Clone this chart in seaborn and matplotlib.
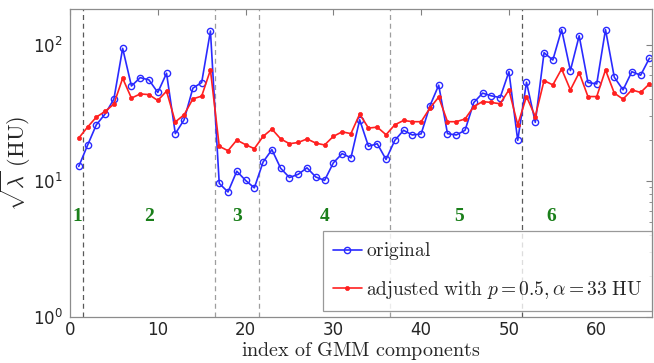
import numpy as np
import pandas as pd
import matplotlib
matplotlib.use("Agg")
import matplotlib.pyplot as plt
import seaborn as sns
from matplotlib.ticker import LogLocator

components = list(range(1, 67))
original = [12.8, 18.3, 25.9, 31.1, 40.0, 94.6, 50.0, 57.6, 55.4, 44.8,
            62.0, 22.3, 28.2, 48.2, 53.0, 127.0, 9.6, 8.3, 11.8, 10.1,
            8.9, 13.8, 17.0, 12.4, 10.6, 11.2, 12.5, 10.7, 10.1, 13.6,
            15.9, 14.8, 28.2, 18.0, 18.8, 14.4, 19.9, 23.6, 21.8, 22.2,
            35.7, 50.7, 22.3, 21.8, 23.6, 37.8, 44.3, 42.3, 41.1, 63.7,
            19.9, 53.3, 27.0, 87.9, 77.6, 130.0, 64.9, 117.0, 53.0, 51.8,
            130.0, 58.0, 46.8, 63.7, 60.0, 80.0]
adjusted = [20.7, 24.9, 29.5, 32.5, 36.8, 57.0, 40.7, 43.7, 43.2, 39.1,
            45.8, 27.2, 30.7, 40.2, 42.1, 65.6, 18.0, 16.7, 20.0, 18.5,
            17.3, 21.3, 24.1, 20.4, 18.8, 19.2, 20.4, 19.0, 18.4, 21.3,
            23.0, 22.3, 31.1, 24.5, 24.9, 21.9, 25.9, 27.9, 27.3, 27.3,
            34.4, 41.4, 27.3, 27.3, 28.6, 35.3, 38.4, 37.8, 37.0, 46.8,
            25.9, 41.8, 29.8, 54.8, 50.9, 66.7, 46.8, 62.7, 41.8, 41.8,
            65.6, 44.3, 40.0, 46.8, 44.8, 51.8]
boundaries = [1.5, 16.5, 21.5, 36.5, 51.5]
group_labels = ["1", "2", "3", "4", "5", "6"]
group_x = [0.8, 9.0, 19.0, 29.0, 44.3, 54.8]
label_y = 5.5

sns.set_style("white")
plt.rcParams["mathtext.fontset"] = "cm"
plt.rcParams["font.family"] = ["DejaVu Sans"]

df = pd.DataFrame({"idx": components, "original": original, "adjusted": adjusted})

fig = plt.figure(figsize=(6.54, 3.63), dpi=100)
ax = fig.add_axes([0.107, 0.127, 0.890, 0.848])

blue = "#2a2aff"
red = "#ff2020"
sns.lineplot(data=df, x="idx", y="original", ax=ax, color=blue, lw=1.2,
             marker="o", markersize=4.5, markerfacecolor="none",
             markeredgecolor=blue, markeredgewidth=1.0,
             label=r"$\mathrm{original}$")
sns.lineplot(data=df, x="idx", y="adjusted", ax=ax, color=red, lw=1.2,
             marker="o", markersize=3.0, markerfacecolor=red,
             markeredgecolor=red, markeredgewidth=0.5,
             label=r"$\mathrm{adjusted\ with\ }p = 0.5, \alpha = 33\ \mathrm{HU}$")

for i, b in enumerate(boundaries):
    ax.axvline(b, color="0.35" if i in (0, 4) else "0.62", ls=(0, (4, 3)), lw=0.9, zorder=0)

for gx, gl in zip(group_x, group_labels):
    ax.text(gx, label_y, gl, color="#1a7f1a", fontsize=14, fontweight="bold",
            family=["Liberation Serif", "DejaVu Serif"], ha="center", va="center")

ax.set_yscale("log")
ax.set_ylim(1, 184)
ax.set_xlim(0, 66.3)
ax.set_xticks([0, 10, 20, 30, 40, 50, 60])
ax.yaxis.set_major_locator(LogLocator(base=10, numticks=5))
ax.yaxis.set_minor_locator(LogLocator(base=10, subs=np.arange(2, 10), numticks=20))

ax.tick_params(axis="both", which="both", direction="in", top=True, right=True,
               labelsize=12, colors="0.15")
ax.tick_params(axis="x", which="major", pad=3)
ax.tick_params(axis="y", which="major", pad=5)
ax.tick_params(axis="both", which="major", length=4, color="0.5")
ax.tick_params(axis="both", which="minor", length=2, color="0.5")
for s in ax.spines.values():
    s.set_color("0.55")
    s.set_linewidth(0.9)

ax.set_xlabel(r"$\mathrm{index\ of\ GMM\ components}$", fontsize=14.5, labelpad=1, color="0.15")
ax.set_ylabel(r"$\sqrt{\lambda}\ \mathrm{(HU)}$", fontsize=16, labelpad=0, color="0.15")

leg = ax.legend(loc="lower right", bbox_to_anchor=(1.0, 0.02), borderaxespad=0,
                fontsize=14, frameon=True, fancybox=False, edgecolor="0.5",
                handlelength=1.5, handletextpad=0.2, labelspacing=0.85,
                borderpad=0.5)
leg.get_frame().set_linewidth(0.9)

fig.savefig("out.png", dpi=100)
